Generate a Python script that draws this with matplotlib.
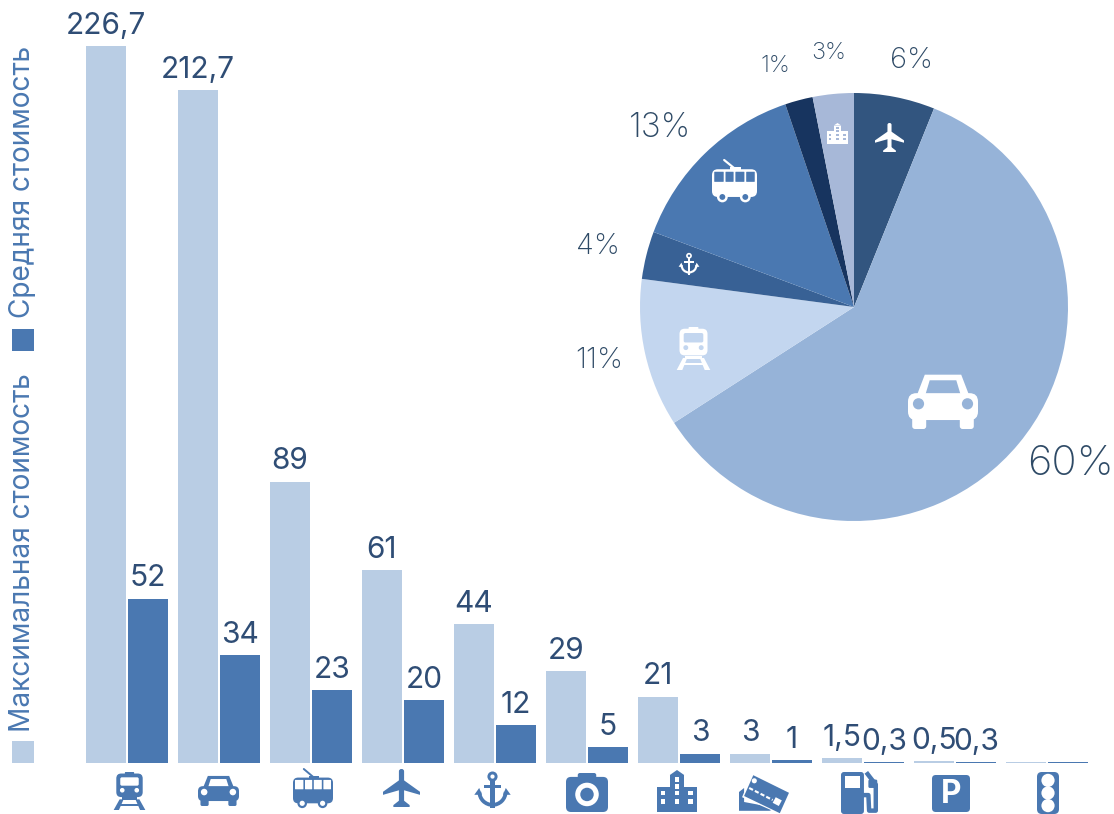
import matplotlib
matplotlib.use("Agg")
import matplotlib.pyplot as plt
from matplotlib.patches import Circle, Polygon, Rectangle, FancyBboxPatch, Wedge

W, H = 1114, 814

# bar chart data
groups = ["train", "car", "trolley", "plane", "anchor", "camera", "building", "cards", "fuel", "parking", "traffic"]
max_cost = [226.7, 212.7, 89, 61, 44, 29, 21, 3, 1.5, 0.5, 0.3]
avg_cost = [52, 34, 23, 20, 12, 5, 3, 1, 0.3, 0.3, 0.3]
max_labels = ["226,7", "212,7", "89", "61", "44", "29", "21", "3", "1,5", "0,5", ""]
avg_labels = ["52", "34", "23", "20", "12", "5", "3", "1", "0,3", "0,3", ""]

# pie data
pie_names = ["plane", "car", "train", "anchor", "trolley", "other", "building"]
pie_share = [6.1, 59.8, 11.2, 3.6, 14.1, 2.1, 3.1]
pie_labels = ["6%", "60%", "11%", "4%", "13%", "1%", "3%"]
pie_colors = ["#32557f", "#96b3d8", "#c3d6ef", "#386195", "#4a78b1", "#17345f", "#a7b8d8"]

LIGHT = "#b9cde4"
DARK = "#4a78b1"
TEXT = "#2f4d75"
PIE_TEXT = "#2e4a66"

plt.rcParams["font.family"] = ["Inter", "DejaVu Sans"]
fig = plt.figure(figsize=(W / 100, H / 100), dpi=100)


def px_axes(left, top, right, bottom):
    return fig.add_axes([left / W, 1 - bottom / H, (right - left) / W, (bottom - top) / H])


# bars: group 0 is centred at px 127, groups are 92 px apart
ax = px_axes(35, 0, 1127, 763)
ax.set_xlim(-1, 10.87)
ax.set_ylim(0, 241.3)
ax.axis("off")
for i in range(len(groups)):
    ax.bar(i - 0.2283, max_cost[i], width=0.435, color=LIGHT)
    ax.bar(i + 0.2283, avg_cost[i], width=0.435, color=DARK)
    ax.annotate(max_labels[i], (i - 0.2283, max_cost[i]), xytext=(0, 4.5), textcoords="offset points",
                ha="center", va="bottom", fontsize=21.5, color=TEXT, annotation_clip=False)
    ax.annotate(avg_labels[i], (i + 0.2283, avg_cost[i]), xytext=(0, 4.5), textcoords="offset points",
                ha="center", va="bottom", fontsize=21.5, color=TEXT, annotation_clip=False)

# pie, radius 214 px around (854, 307)
pax = px_axes(854 - 214, 307 - 214, 854 + 214, 307 + 214)
pax.pie(pie_share, colors=pie_colors, startangle=90, counterclock=False, radius=1,
        wedgeprops={"linewidth": 0})
pax.set_xlim(-1, 1)
pax.set_ylim(-1, 1)

# overlay in pixel coordinates for icons and free text
ov = px_axes(0, 0, W, H)
ov.set_xlim(0, W)
ov.set_ylim(H, 0)
ov.axis("off")
ov.patch.set_alpha(0)


def add(p):
    ov.add_patch(p)


def box(x, y, w, h, c, r=0.0):
    if r:
        add(FancyBboxPatch((x + r, y + r), w - 2 * r, h - 2 * r, boxstyle="round,pad=%f" % r, fc=c, ec="none"))
    else:
        add(Rectangle((x, y), w, h, fc=c, ec="none"))


def poly(pts, c):
    add(Polygon(pts, closed=True, fc=c, ec="none"))


def circ(x, y, r, c):
    add(Circle((x, y), r, fc=c, ec="none"))


# each icon fits a box left, top, width, height; fg on bg
def train(x, y, w, h, fg, bg):
    sx = lambda v: x + v * w
    sy = lambda v: y + v * h
    box(sx(0.36), sy(0), 0.28 * w, 0.08 * h, fg, 0.02 * w)
    box(sx(0.1), sy(0.04), 0.8 * w, 0.62 * h, fg, 0.15 * w)
    box(sx(0.22), sy(0.14), 0.56 * w, 0.22 * h, bg, 0.05 * w)
    circ(sx(0.28), sy(0.48), 0.07 * w, bg)
    circ(sx(0.72), sy(0.48), 0.07 * w, bg)
    box(sx(0.27), sy(0.67), 0.46 * w, 0.07 * h, fg)
    poly([(sx(0.2), sy(0.72)), (sx(0.32), sy(0.72)), (sx(0.18), sy(1)), (sx(0.02), sy(1))], fg)
    poly([(sx(0.68), sy(0.72)), (sx(0.8), sy(0.72)), (sx(0.98), sy(1)), (sx(0.82), sy(1))], fg)
    box(sx(0.22), sy(0.84), 0.56 * w, 0.05 * h, fg)


def car(x, y, w, h, fg, bg):
    sx = lambda v: x + v * w
    sy = lambda v: y + v * h
    poly([(sx(0.12), sy(0.42)), (sx(0.24), sy(0.03)), (sx(0.76), sy(0.03)), (sx(0.88), sy(0.42))], fg)
    poly([(sx(0.25), sy(0.38)), (sx(0.31), sy(0.13)), (sx(0.69), sy(0.13)), (sx(0.75), sy(0.38))], bg)
    box(sx(0), sy(0.36), w, 0.48 * h, fg, 0.12 * w)
    box(sx(0.06), sy(0.78), 0.2 * w, 0.22 * h, fg, 0.04 * w)
    box(sx(0.74), sy(0.78), 0.2 * w, 0.22 * h, fg, 0.04 * w)
    circ(sx(0.15), sy(0.55), 0.08 * w, bg)
    circ(sx(0.85), sy(0.55), 0.08 * w, bg)


def trolley(x, y, w, h, fg, bg):
    sx = lambda v: x + v * w
    sy = lambda v: y + v * h
    ov.plot([sx(0.27), sx(0.5)], [sy(0), sy(0.2)], color=fg, lw=max(0.8, w * 0.035), solid_capstyle="round")
    box(sx(0.4), sy(0.17), 0.24 * w, 0.07 * h, fg)
    box(sx(0), sy(0.22), w, 0.66 * h, fg, 0.13 * w)
    for a, b in [(0.05, 0.26), (0.3, 0.48), (0.52, 0.72), (0.76, 0.95)]:
        box(sx(a), sy(0.28), (b - a) * w, 0.24 * h, bg, 0.01 * w)
    for c in (0.23, 0.74):
        circ(sx(c), sy(0.88), 0.12 * w, fg)
        circ(sx(c), sy(0.88), 0.065 * w, bg)


def plane(x, y, w, h, fg, bg):
    sx = lambda v: x + v * w
    sy = lambda v: y + v * h
    box(sx(0.43), sy(0), 0.14 * w, 0.95 * h, fg, 0.065 * w)
    poly([(sx(0.43), sy(0.3)), (sx(0.57), sy(0.3)), (sx(1), sy(0.6)), (sx(1), sy(0.68)),
          (sx(0.57), sy(0.56)), (sx(0.43), sy(0.56)), (sx(0), sy(0.68)), (sx(0), sy(0.6))], fg)
    poly([(sx(0.45), sy(0.82)), (sx(0.55), sy(0.82)), (sx(0.72), sy(0.95)), (sx(0.72), sy(1)),
          (sx(0.28), sy(1)), (sx(0.28), sy(0.95))], fg)


def anchor(x, y, w, h, fg, bg):
    sx = lambda v: x + v * w
    sy = lambda v: y + v * h
    circ(sx(0.5), sy(0.12), 0.145 * w, fg)
    circ(sx(0.5), sy(0.12), 0.06 * w, bg)
    box(sx(0.44), sy(0.2), 0.12 * w, 0.75 * h, fg)
    box(sx(0.27), sy(0.34), 0.46 * w, 0.08 * h, fg)
    rw = 0.43 * w
    ov.add_patch(Wedge((sx(0.5), sy(0.52)), rw, 0, 180, width=0.11 * w, fc=fg, ec="none"))
    poly([(sx(-0.02), sy(0.6)), (sx(0.2), sy(0.6)), (sx(0.12), sy(0.42))], fg)
    poly([(sx(0.8), sy(0.6)), (sx(1.02), sy(0.6)), (sx(0.88), sy(0.42))], fg)


def camera(x, y, w, h, fg, bg):
    sx = lambda v: x + v * w
    sy = lambda v: y + v * h
    box(sx(0.28), sy(0), 0.44 * w, 0.25 * h, fg, 0.05 * w)
    box(sx(0), sy(0.1), w, 0.9 * h, fg, 0.12 * w)
    circ(sx(0.5), sy(0.55), 0.28 * w, bg)
    circ(sx(0.5), sy(0.55), 0.16 * w, fg)


def building(x, y, w, h, fg, bg):
    sx = lambda v: x + v * w
    sy = lambda v: y + v * h
    poly([(sx(0.32), sy(0.12)), (sx(0.5), sy(0)), (sx(0.68), sy(0.12))], fg)
    box(sx(0.32), sy(0.12), 0.36 * w, 0.88 * h, fg)
    box(sx(0), sy(0.4), w, 0.6 * h, fg)
    s = 0.11 * w
    for cx, rows in [(0.1, (0.5, 0.7)), (0.44, (0.17, 0.34, 0.5, 0.7)), (0.78, (0.5, 0.7))]:
        for r in rows:
            box(sx(cx), sy(r), s, s, bg)


def cards(x, y, w, h, fg, bg):
    sx = lambda v: x + v * w
    sy = lambda v: y + v * h
    poly([(sx(0), sy(0.45)), (sx(0.1), sy(0.35)), (sx(0.1), sy(0.7)), (sx(0.52), sy(0.8)),
          (sx(0.72), sy(0.85)), (sx(0.6), sy(0.92)), (sx(0), sy(0.92))], fg)
    poly([(sx(0.06), sy(0.58)), (sx(0.25), sy(0)), (sx(1), sy(0.47)), (sx(0.8), sy(1))], bg)
    poly([(sx(0.1), sy(0.55)), (sx(0.28), sy(0.03)), (sx(0.98), sy(0.47)), (sx(0.8), sy(0.98))], fg)
    circ(sx(0.3), sy(0.17), 0.05 * w, bg)
    ov.plot([sx(0.2), sx(0.66)], [sy(0.35), sy(0.65)], color=bg, lw=max(0.5, w * 0.03), ls=(0, (2, 1)))
    poly([(sx(0.66), sy(0.72)), (sx(0.72), sy(0.58)), (sx(0.84), sy(0.66)), (sx(0.78), sy(0.8))], bg)


def fuel(x, y, w, h, fg, bg):
    sx = lambda v: x + v * w
    sy = lambda v: y + v * h
    box(sx(0), sy(0), 0.62 * w, h, fg, 0.08 * w)
    box(sx(0.1), sy(0.1), 0.42 * w, 0.27 * h, bg)
    ov.plot([sx(0.62), sx(0.74), sx(0.76), sx(0.94), sx(0.94), sx(0.78), sx(0.72)],
            [sy(0.55), sy(0.55), sy(0.92), sy(0.92), sy(0.3), sy(0.12), sy(0.05)],
            color=fg, lw=3.2, solid_joinstyle="round")
    box(sx(0.74), sy(0.18), 0.24 * w, 0.2 * h, fg, 0.04 * w)


def parking(x, y, w, h, fg, bg):
    box(x, y, w, h, fg, 0.1 * w)
    ov.text(x + 0.5 * w, y + 0.53 * h, "P", color=bg, fontsize=0.62 * h * 0.72 / 0.727, fontweight="bold",
            ha="center", va="center")


def traffic(x, y, w, h, fg, bg):
    box(x, y, w, h, fg, 0.22 * w)
    for v in (0.2, 0.5, 0.8):
        circ(x + 0.5 * w, y + v * h, 0.3 * w, bg)


# bottom row
row = [(train, 113, 772, 33, 38), (car, 198, 775, 41, 31), (trolley, 293, 769, 40, 39),
       (plane, 383, 769, 37, 38), (anchor, 475, 772, 35, 38), (camera, 566, 773, 42, 39),
       (building, 657, 770, 40, 42), (cards, 739, 774, 51, 40), (fuel, 841, 772, 37, 42),
       (parking, 932, 775, 38, 37), (traffic, 1037, 772, 22, 42)]
for f, x, y, w, h in row:
    f(x, y, w, h, DARK, "white")

# icons on the pie
plane(875, 123, 29, 29, "white", pie_colors[0])
car(908, 373, 70, 56, "white", pie_colors[1])
train(676, 327, 35, 43, "white", pie_colors[2])
anchor(679, 253, 20, 23, "white", pie_colors[3])
trolley(712, 160, 45, 42, "white", pie_colors[4])
building(827, 123, 21, 21, "white", pie_colors[6])

# pie percent labels
pie_label_pos = [(911, 60, 21), (1070, 464, 30), (599, 361, 21), (598, 247, 21), (660, 128, 24), (775, 66, 17), (829, 53, 17)]
for txt, (x, y, fs) in zip(pie_labels, pie_label_pos):
    ov.text(x, y, txt, color=PIE_TEXT, fontsize=fs, ha="center", va="center", fontweight="light")

# legend written vertically
box(12, 741, 22, 22, LIGHT)
box(12, 329, 22, 22, DARK)
ov.text(23, 732, "Максимальная стоимость", rotation=90, color=DARK, fontsize=20.2, ha="center", va="bottom")
ov.text(23, 318, "Средняя стоимость", rotation=90, color=DARK, fontsize=20.2, ha="center", va="bottom")

fig.savefig("out.png", dpi=100)
